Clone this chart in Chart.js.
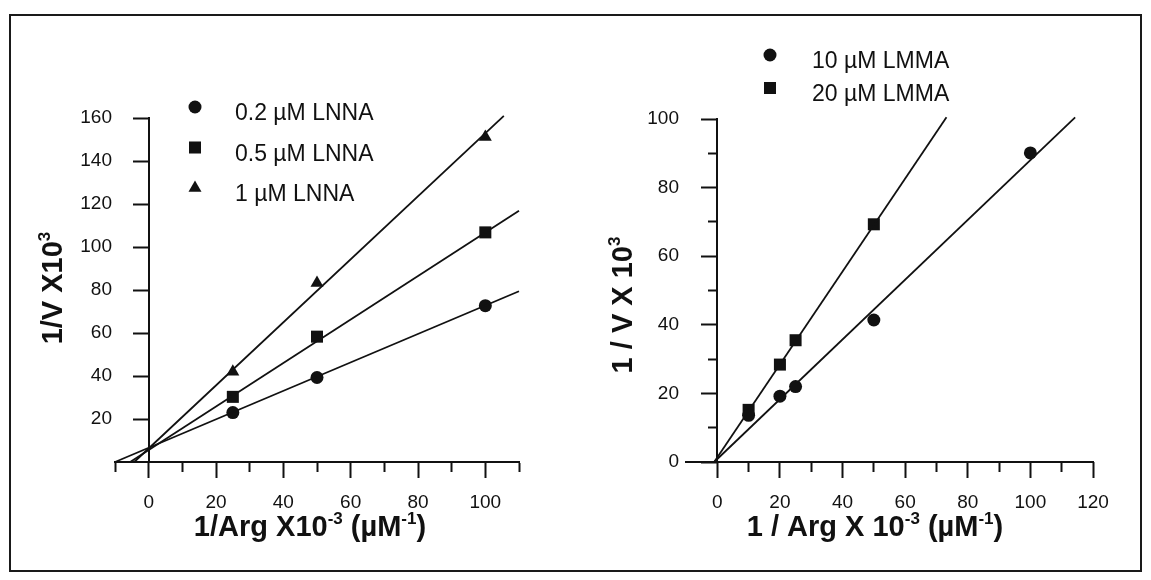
<!DOCTYPE html>
<html>
<head>
<meta charset="utf-8">
<title>Lineweaver-Burk plots</title>
<script src="https://cdn.jsdelivr.net/npm/chart.js@4.4.1/dist/chart.umd.min.js"></script>
<style>
  html, body { margin: 0; padding: 0; background: #fff; }
  #frame {
    position: absolute; left: 9px; top: 14px;
    width: 1129px; height: 554px;
    border: 2px solid #1a1a1a;
  }
  .panel { position: absolute; top: 0; height: 580px; }
  #left-panel { left: 0; width: 575px; }
  #right-panel { left: 575px; width: 576px; }
</style>
</head>
<body>
<div id="frame"></div>
<div id="left-panel" class="panel"><canvas id="left-chart" width="575" height="580"></canvas></div>
<div id="right-panel" class="panel"><canvas id="right-chart" width="576" height="580"></canvas></div>
<script>
// ---- left panel: LNNA ----
const lnnaX = [25, 50, 100];
const lnna02 = [23.0, 39.3, 72.7];
const lnna05 = [30.3, 58.3, 106.8];
const lnna1 = [42.0, 83.2, 151.2];
// fitted lines, end points
const lnna02FitX = [-10, 110];
const lnna02FitY = [0, 79.4];
const lnna05FitX = [-5.5, 110];
const lnna05FitY = [0, 116.9];
const lnna1FitX = [-4.3, 105.5];
const lnna1FitY = [0, 161];
const leftXMajor = [0, 20, 40, 60, 80, 100];
const leftXMinor = [-10, 10, 30, 50, 70, 90, 110];
const leftYMajor = [20, 40, 60, 80, 100, 120, 140, 160];

// ---- right panel: LMMA ----
const lmma10X = [10, 20, 25, 50, 100];
const lmma10 = [13.6, 19.2, 22.0, 41.4, 90.1];
const lmma20X = [10, 20, 25, 50];
const lmma20 = [15.2, 28.4, 35.5, 69.3];
const lmma10FitX = [-1, 114.3];
const lmma10FitY = [0, 100.5];
const lmma20FitX = [-1, 73.2];
const lmma20FitY = [0, 100.5];
const rightXMajor = [0, 20, 40, 60, 80, 100, 120];
const rightXMinor = [10, 30, 50, 70, 90, 110];
const rightYMajor = [0, 20, 40, 60, 80, 100];
const rightYMinor = [10, 30, 50, 70, 90];

const INK = "#111";
const FONT = "'Liberation Sans', Arial, sans-serif";

function toPoints(xs, ys) {
  return xs.map((x, i) => ({ x: x, y: ys[i] }));
}

function fitLine(xs, ys) {
  return {
    data: toPoints(xs, ys),
    showLine: true,
    pointRadius: 0,
    borderColor: INK,
    borderWidth: 1.8,
    clip: false,
    inLegend: false,
  };
}

function markers(label, xs, ys, style, radius) {
  return {
    label: label,
    data: toPoints(xs, ys),
    pointStyle: style,
    pointRadius: radius,
    backgroundColor: INK,
    borderColor: INK,
    borderWidth: 0,
    clip: false,
    inLegend: true,
  };
}

// draws a title made of normal and superscript pieces
function drawRich(ctx, parts, size) {
  let total = 0;
  parts.forEach((p) => {
    ctx.font = `bold ${p.sup ? Math.round(size * 0.58) : size}px ${FONT}`;
    p.w = ctx.measureText(p.t).width;
    total += p.w;
  });
  let x = -total / 2;
  parts.forEach((p) => {
    ctx.font = `bold ${p.sup ? Math.round(size * 0.58) : size}px ${FONT}`;
    ctx.fillText(p.t, x, p.sup ? -size * 0.42 : 0);
    x += p.w;
  });
}

const richTitles = {
  id: "richTitles",
  afterDraw(chart, args, opts) {
    const ctx = chart.ctx;
    ctx.save();
    ctx.fillStyle = INK;
    ctx.textBaseline = "alphabetic";
    ctx.translate(opts.x.cx, opts.x.cy);
    drawRich(ctx, opts.x.parts, opts.size);
    ctx.restore();

    ctx.save();
    ctx.fillStyle = INK;
    ctx.translate(opts.y.cx, opts.y.cy);
    ctx.rotate(-Math.PI / 2);
    drawRich(ctx, opts.y.parts, opts.size);
    ctx.restore();
  },
};

const markerLegend = {
  id: "markerLegend",
  afterDraw(chart, args, opts) {
    const ctx = chart.ctx;
    ctx.save();
    let row = 0;
    chart.data.datasets.forEach((ds) => {
      if (!ds.inLegend) return;
      const y = opts.top + row * opts.step;
      ctx.fillStyle = INK;
      ctx.strokeStyle = INK;
      Chart.helpers.drawPoint(ctx, { pointStyle: ds.pointStyle, radius: ds.pointRadius, rotation: 0, borderWidth: 0 }, opts.left, y);
      ctx.font = `${opts.size}px ${FONT}`;
      ctx.textBaseline = "middle";
      ctx.textAlign = "left";
      ctx.fillText(ds.label, opts.textLeft, y + opts.textShift);
      row++;
    });
    ctx.restore();
  },
};

function fixedTicks(values) {
  return (scale) => {
    scale.ticks = values.map((v) => ({ value: v }));
  };
}

const tickFont = { family: FONT, size: 19 };

// tick marks / axis line, drawn through zero of the other axis
function axis(dir, min, max, values, tickLength, showLabels, showBorder) {
  return {
    type: "linear",
    axis: dir,
    position: dir === "x" ? { y: 0 } : { x: 0 },
    min: min,
    max: max,
    afterBuildTicks: fixedTicks(values),
    grid: { drawOnChartArea: false, tickLength: tickLength, tickWidth: 2, tickColor: INK },
    border: { display: showBorder, color: INK, width: 2 },
    ticks: {
      display: showLabels,
      autoSkip: false,
      maxRotation: 0,
      padding: 13,
      color: INK,
      font: tickFont,
      callback: (v) => String(v),
    },
  };
}

// y tick labels only, kept on the left edge of the plot area
function yLabelAxis(max, values, pad, width) {
  return {
    type: "linear",
    axis: "y",
    position: "left",
    min: 0,
    max: max,
    afterBuildTicks: fixedTicks(values),
    afterFit: (scale) => {
      scale.width = width;
    },
    grid: { display: false },
    border: { display: false },
    ticks: {
      autoSkip: false,
      padding: pad,
      color: INK,
      font: tickFont,
      callback: (v) => String(v),
    },
  };
}

function buildPanel(canvasId, p) {
  const ctx = document.getElementById(canvasId).getContext("2d");
  return new Chart(ctx, {
    type: "scatter",
    data: { datasets: p.datasets },
    options: {
      responsive: false,
      animation: false,
      layout: { padding: p.padding },
      plugins: {
        legend: { display: false },
        tooltip: { enabled: false },
        richTitles: p.titles,
        markerLegend: p.legend,
      },
      scales: {
        x: axis("x", p.xMin, p.xMax, p.xMinor, 9, false, true),
        y: axis("y", 0, p.yMax, p.yMinor, 8, false, true),
        xMajor: axis("x", p.xMin, p.xMax, p.xMajor, 16, true, false),
        yMajor: axis("y", 0, p.yMax, p.yMajor, 16, false, false),
        yLabels: yLabelAxis(p.yMax, p.yMajor, p.yLabelPad, 40),
      },
    },
    plugins: [richTitles, markerLegend],
  });
}

buildPanel("left-chart", {
  xMin: -10, xMax: 110, yMax: 160,
  xMajor: leftXMajor, xMinor: leftXMinor,
  yMajor: leftYMajor, yMinor: [],
  yLabelPad: -5,
  padding: { left: 75, right: 56, top: 118, bottom: 118 },
  datasets: [
    fitLine(lnna02FitX, lnna02FitY),
    fitLine(lnna05FitX, lnna05FitY),
    fitLine(lnna1FitX, lnna1FitY),
    markers("0.2 \u00b5M LNNA", lnnaX, lnna02, "circle", 6.5),
    markers("0.5 \u00b5M LNNA", lnnaX, lnna05, "rect", 8.5),
    markers("1 \u00b5M LNNA", lnnaX, lnna1, "triangle", 7.5),
  ],
  titles: {
    size: 29,
    x: { cx: 310, cy: 536, parts: [{ t: "1/Arg X10" }, { t: "-3", sup: true }, { t: " (\u00b5M" }, { t: "-1", sup: true }, { t: ")" }] },
    y: { cx: 62, cy: 288, parts: [{ t: "1/V X10" }, { t: "3", sup: true }] },
  },
  legend: { left: 195, top: 107, step: 40.5, textLeft: 235, textShift: 7, size: 23 },
});

buildPanel("right-chart", {
  xMin: -10, xMax: 120, yMax: 100,
  xMajor: rightXMajor, xMinor: rightXMinor,
  yMajor: rightYMajor, yMinor: rightYMinor,
  yLabelPad: -1,
  padding: { left: 71, right: 58, top: 119, bottom: 118 },
  datasets: [
    fitLine(lmma10FitX, lmma10FitY),
    fitLine(lmma20FitX, lmma20FitY),
    markers("10 \u00b5M LMMA", lmma10X, lmma10, "circle", 6.5),
    markers("20 \u00b5M LMMA", lmma20X, lmma20, "rect", 8.5),
  ],
  titles: {
    size: 29,
    x: { cx: 300, cy: 536, parts: [{ t: "1 / Arg X 10" }, { t: "-3", sup: true }, { t: " (\u00b5M" }, { t: "-1", sup: true }, { t: ")" }] },
    y: { cx: 57, cy: 305, parts: [{ t: "1 / V X 10" }, { t: "3", sup: true }] },
  },
  legend: { left: 195, top: 55, step: 33, textLeft: 237, textShift: 7, size: 23 },
});
</script>
</body>
</html>
